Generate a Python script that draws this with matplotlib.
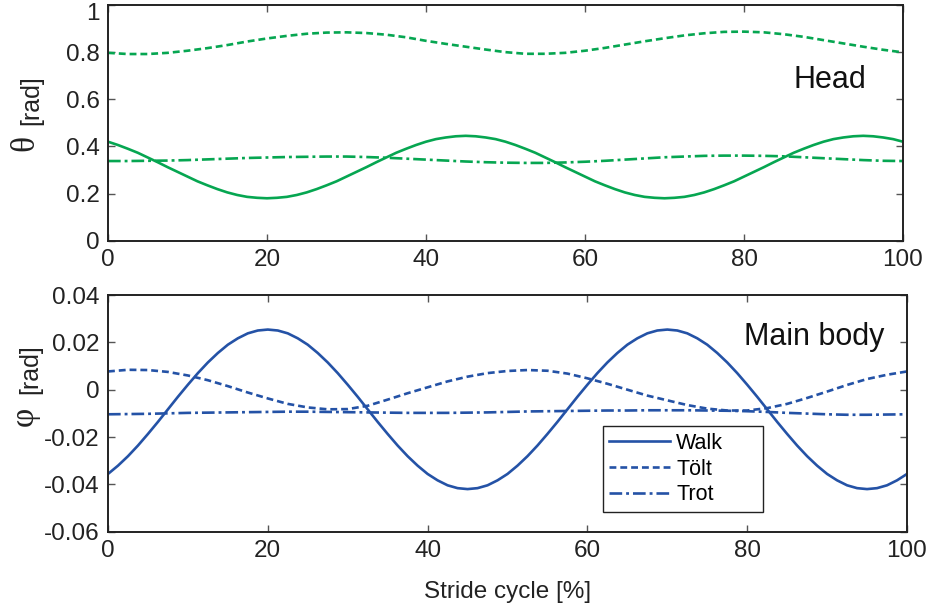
import numpy as np
import matplotlib
matplotlib.use("Agg")
import matplotlib.pyplot as plt
from matplotlib.transforms import ScaledTranslation

plt.rcParams['font.family'] = ['Liberation Sans', 'DejaVu Sans']

# ---------------- data ----------------
stride_fine = [0, 1.25, 2.5, 3.75, 5, 6.25, 7.5, 8.75, 10, 11.25, 12.5, 13.75, 15, 16.25,
               17.5, 18.75, 20, 21.25, 22.5, 23.75, 25, 26.25, 27.5, 28.75, 30, 31.25,
               32.5, 33.75, 35, 36.25, 37.5, 38.75, 40, 41.25, 42.5, 43.75, 45, 46.25,
               47.5, 48.75, 50, 51.25, 52.5, 53.75, 55, 56.25, 57.5, 58.75, 60, 61.25,
               62.5, 63.75, 65, 66.25, 67.5, 68.75, 70, 71.25, 72.5, 73.75, 75, 76.25,
               77.5, 78.75, 80, 81.25, 82.5, 83.75, 85, 86.25, 87.5, 88.75, 90, 91.25,
               92.5, 93.75, 95, 96.25, 97.5, 98.75, 100]
stride = [0, 2.5, 5, 7.5, 10, 12.5, 15, 17.5, 20, 22.5, 25, 27.5, 30, 32.5, 35, 37.5,
          40, 42.5, 45, 47.5, 50, 52.5, 55, 57.5, 60, 62.5, 65, 67.5, 70, 72.5, 75,
          77.5, 80, 82.5, 85, 87.5, 90, 92.5, 95, 97.5, 100]

head_walk = [0.420, 0.406, 0.390, 0.373, 0.353, 0.333, 0.312, 0.292, 0.272, 0.252, 0.235,
             0.219, 0.205, 0.194, 0.186, 0.182, 0.180, 0.182, 0.186, 0.194, 0.205, 0.219,
             0.235, 0.252, 0.272, 0.292, 0.312, 0.333, 0.353, 0.373, 0.390, 0.406, 0.420,
             0.431, 0.438, 0.443, 0.445, 0.443, 0.438, 0.431, 0.420,
             0.406, 0.390, 0.373, 0.353, 0.333, 0.312, 0.292, 0.272, 0.252, 0.235,
             0.219, 0.205, 0.194, 0.186, 0.182, 0.180, 0.182, 0.186, 0.194, 0.205, 0.219,
             0.235, 0.252, 0.272, 0.292, 0.312, 0.333, 0.353, 0.373, 0.390, 0.406, 0.420,
             0.431, 0.438, 0.443, 0.445, 0.443, 0.438, 0.431, 0.420]
head_tolt = [0.797, 0.792, 0.792, 0.797, 0.806, 0.817, 0.830, 0.845, 0.858, 0.869, 0.878,
             0.883, 0.884, 0.881, 0.874, 0.863, 0.848, 0.835, 0.823, 0.811, 0.800, 0.793,
             0.793, 0.797, 0.806, 0.818, 0.832, 0.846, 0.859, 0.871, 0.880, 0.886, 0.887,
             0.884, 0.876, 0.865, 0.851, 0.837, 0.823, 0.810, 0.799]
head_trot = [0.338, 0.338, 0.339, 0.340, 0.342, 0.345, 0.348, 0.351, 0.353, 0.355, 0.356,
             0.357, 0.357, 0.355, 0.352, 0.348, 0.344, 0.340, 0.336, 0.333, 0.331, 0.330,
             0.330, 0.332, 0.335, 0.339, 0.344, 0.349, 0.354, 0.357, 0.360, 0.361, 0.361,
             0.360, 0.358, 0.354, 0.350, 0.346, 0.342, 0.339, 0.338]

body_walk = [-0.0356, -0.0321, -0.0281, -0.0236, -0.0187, -0.0136, -0.0083, -0.0030,
             0.0021, 0.0070, 0.0115, 0.0155, 0.0190, 0.0217, 0.0238, 0.0250, 0.0254,
             0.0250, 0.0238, 0.0217, 0.0190, 0.0155, 0.0115, 0.0070, 0.0021, -0.0030,
             -0.0083, -0.0136, -0.0187, -0.0236, -0.0281, -0.0321, -0.0356, -0.0383,
             -0.0404, -0.0416, -0.0420, -0.0416, -0.0404, -0.0383, -0.0356,
             -0.0321, -0.0281, -0.0236, -0.0187, -0.0136, -0.0083, -0.0030,
             0.0021, 0.0070, 0.0115, 0.0155, 0.0190, 0.0217, 0.0238, 0.0250, 0.0254,
             0.0250, 0.0238, 0.0217, 0.0190, 0.0155, 0.0115, 0.0070, 0.0021, -0.0030,
             -0.0083, -0.0136, -0.0187, -0.0236, -0.0281, -0.0321, -0.0356, -0.0383,
             -0.0404, -0.0416, -0.0420, -0.0416, -0.0404, -0.0383, -0.0356]
body_tolt = [0.0077, 0.0084, 0.0083, 0.0075, 0.0060, 0.0040, 0.0015, -0.0012, -0.0037,
             -0.0060, -0.0075, -0.0083, -0.0082, -0.0068, -0.0042, -0.0015, 0.0010, 0.0035,
             0.0055, 0.0070, 0.0079, 0.0083, 0.0080, 0.0068, 0.0048, 0.0025, 0.0000,
             -0.0025, -0.0045, -0.0065, -0.0080, -0.0088, -0.0088, -0.0078, -0.0060,
             -0.0035, -0.0008, 0.0020, 0.0045, 0.0063, 0.0077]
body_trot = [-0.0104, -0.0103, -0.0102, -0.0100, -0.0098, -0.0097, -0.0096, -0.0095,
             -0.0094, -0.0093, -0.0093, -0.0094, -0.0095, -0.0096, -0.0097, -0.0098,
             -0.0098, -0.0098, -0.0097, -0.0096, -0.0094, -0.0092, -0.0091, -0.0090,
             -0.0089, -0.0088, -0.0088, -0.0087, -0.0087, -0.0087, -0.0088, -0.0089,
             -0.0091, -0.0094, -0.0098, -0.0101, -0.0104, -0.0106, -0.0106, -0.0105, -0.0104]

gait_labels = ["Walk", "Tölt", "Trot"]
x_ticks = [0, 20, 40, 60, 80, 100]
head_yticks = [0, 0.2, 0.4, 0.6, 0.8, 1]
head_yticklabels = ["0", "0.2", "0.4", "0.6", "0.8", "1"]
body_yticks = [-0.06, -0.04, -0.02, 0, 0.02, 0.04]
body_yticklabels = ["-0.06", "-0.04", "-0.02", "0", "0.02", "0.04"]

# ---------------- style ----------------
GREEN = "#06A651"
BLUE = "#2452A6"
LW = 1.9
styles = ["-", (0, (2.6, 1.5)), (0, (4.8, 1.5, 1.1, 1.5))]
TICKFS = 17.5

fig = plt.figure(figsize=(9.35, 6.11), dpi=100)
ax1 = fig.add_axes([108 / 935, 1 - 240.7 / 611, 795 / 935, 235.7 / 611])
ax2 = fig.add_axes([108 / 935, 1 - 531.7 / 611, 799 / 935, 236.7 / 611])

head_series = [(stride_fine, head_walk), (stride, head_tolt), (stride, head_trot)]
body_series = [(stride_fine, body_walk), (stride, body_tolt), (stride, body_trot)]

for (xs, ys), ls in zip(head_series, styles):
    ax1.plot(xs, ys, color=GREEN, lw=LW, linestyle=ls)
lines = []
for (xs, ys), ls, lab in zip(body_series, styles, gait_labels):
    ln, = ax2.plot(xs, ys, color=BLUE, lw=LW, linestyle=ls, label=lab)
    lines.append(ln)

for ax in (ax1, ax2):
    ax.set_xlim(0, 100)
    ax.set_xticks(x_ticks)
    ax.set_xticklabels([str(v) for v in x_ticks])
    ax.tick_params(direction="in", length=5, width=1.0, color="#555555",
                   top=True, right=True, labelsize=TICKFS, pad=6, labelcolor="#222222")
    for sp in ax.spines.values():
        sp.set_linewidth(1.4)
        sp.set_color("#222222")

ax1.set_ylim(0, 1)
ax1.set_yticks(head_yticks)
ax1.set_yticklabels(head_yticklabels)
ax2.set_ylim(-0.06, 0.04)
ax2.set_yticks(body_yticks)
ax2.set_yticklabels(body_yticklabels)

# MATLAB places the topmost label slightly below the axis top
top_lab = ax1.get_yticklabels()[-1]
top_lab.set_transform(top_lab.get_transform() +
                      ScaledTranslation(0, -6 / 100, fig.dpi_scale_trans))

ax1.text(0.908, 0.682, "Head", transform=ax1.transAxes, fontsize=22,
         ha="center", va="center", color="#111111")
ax2.text(0.884, 0.823, "Main body", transform=ax2.transAxes, fontsize=22,
         ha="center", va="center", color="#111111")

# y labels: serif greek symbol + sans unit
ax1.text(-0.104, 0.415, "θ", transform=ax1.transAxes, rotation=90, fontsize=24,
         family="Liberation Serif", ha="center", va="center", color="#222222")
ax1.text(-0.097, 0.597, "[rad]", transform=ax1.transAxes, rotation=90, fontsize=18,
         ha="center", va="center", color="#222222")
ax2.text(-0.104, 0.489, "φ", transform=ax2.transAxes, rotation=90, fontsize=24,
         family="Liberation Serif", ha="center", va="center", color="#222222")
ax2.text(-0.097, 0.687, "[rad]", transform=ax2.transAxes, rotation=90, fontsize=18,
         ha="center", va="center", color="#222222")

ax2.set_xlabel("Stride cycle [%]", fontsize=TICKFS, labelpad=14, color="#222222")

leg = ax2.legend(handles=lines, loc="lower left",
                 bbox_to_anchor=(0.6195, 0.0845, 0.2005, 0.35), mode="expand",
                 borderaxespad=0, fontsize=15.5, handlelength=2.8, handletextpad=0.3,
                 labelspacing=0.22, borderpad=0.3, fancybox=False, framealpha=1,
                 edgecolor="#222222")
leg.get_frame().set_linewidth(1.0)

fig.savefig("out.png", dpi=100)
